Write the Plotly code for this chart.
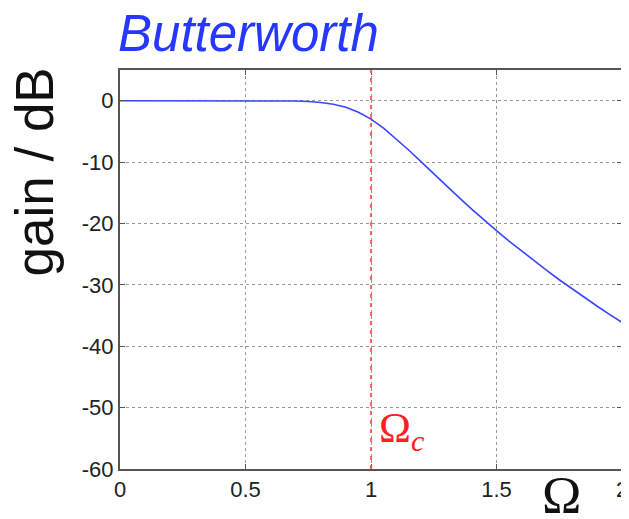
import plotly.graph_objects as go

# Data (gain in dB vs normalised frequency)
omega = [0.0, 0.1, 0.2, 0.3, 0.4, 0.5, 0.55, 0.6, 0.65, 0.7, 0.75, 0.8, 0.85, 0.9, 0.95,
         1.0, 1.05, 1.1, 1.15, 1.2, 1.25, 1.3, 1.35, 1.4, 1.45, 1.5, 1.55, 1.6, 1.65,
         1.7, 1.75, 1.8, 1.85, 1.9, 1.95, 2.0]
gain_db = [0.0, 0.0, 0.0, 0.0, 0.0, 0.0, -0.003, -0.009, -0.025, -0.06, -0.14, -0.29, -0.58, -1.08, -1.88,
           -3.01, -4.47, -6.17, -8.03, -9.96, -11.92, -13.86, -15.76, -17.61, -19.42, -21.16, -22.87,
           -24.51, -26.10, -27.65, -29.17, -30.64, -32.07, -33.45, -34.81, -36.12]
cutoff = 1.0
x_ticks = [0, 0.5, 1, 1.5, 2]
x_tick_text = ["0", "0.5", "1", "1.5", "2"]
y_ticks = [0, -10, -20, -30, -40, -50, -60]
y_tick_text = ["0", "-10", "-20", "-30", "-40", "-50", "-60"]

fig = go.Figure()
fig.add_trace(go.Scatter(x=omega, y=gain_db, mode="lines",
                         line=dict(color="#3a46ff", width=1.6), hoverinfo="skip",
                         showlegend=False))

fig.add_shape(type="line", xref="x", yref="paper", x0=cutoff, x1=cutoff, y0=0, y1=1,
              line=dict(color="rgba(255,80,80,0.85)", width=2.2, dash="4px,5px"))

axis_common = dict(showline=True, linecolor="#555", linewidth=2, mirror="ticks",
                   ticks="inside", ticklen=5, tickcolor="#555", automargin=False,
                   showgrid=True, gridcolor="#999", griddash="dot", gridwidth=1.3,
                   zeroline=False,
                   tickfont=dict(family="Liberation Sans, Arial, sans-serif", size=22, color="#222"))

fig.update_xaxes(range=[0, 2], tickvals=x_ticks, ticktext=x_tick_text, **axis_common)
fig.update_yaxes(range=[-60, 5], tickvals=y_ticks, ticktext=y_tick_text, **axis_common)

annotations = [
    dict(text="<i>Butterworth</i>", xref="paper", yref="paper", x=0.0, y=1.0,
         xanchor="left", yanchor="bottom", yshift=6, xshift=-4, showarrow=False,
         font=dict(family="Liberation Sans, Arial, sans-serif", size=51, color="#2638ff")),
    dict(text="gain / dB", xref="paper", yref="paper", x=0, y=1.0, xshift=-86,
         xanchor="center", yanchor="top", yshift=4, textangle=-90, showarrow=False,
         font=dict(family="Liberation Sans, Arial, sans-serif", size=53, color="#111")),
    dict(text="Ω", xref="x", yref="paper", x=1.76, y=0, yshift=-57,
         xanchor="center", yanchor="bottom", showarrow=False,
         font=dict(family="Liberation Serif, Times New Roman, serif", size=53, color="#111")),
    dict(text="Ω<sub><i>c</i></sub>", xref="x", yref="y", x=cutoff, y=-53.8, xshift=6,
         xanchor="left", yanchor="middle", showarrow=False,
         font=dict(family="Liberation Serif, Times New Roman, serif", size=43, color="#ff2020")),
]
# The page body adds an 8px offset, so the figure is sized 8px smaller
fig.update_layout(
    width=621, height=511,
    margin=dict(l=112, r=7, t=62, b=50, autoexpand=False),
    paper_bgcolor="white", plot_bgcolor="white",
    annotations=annotations,
)
fig.write_html("out.html")
